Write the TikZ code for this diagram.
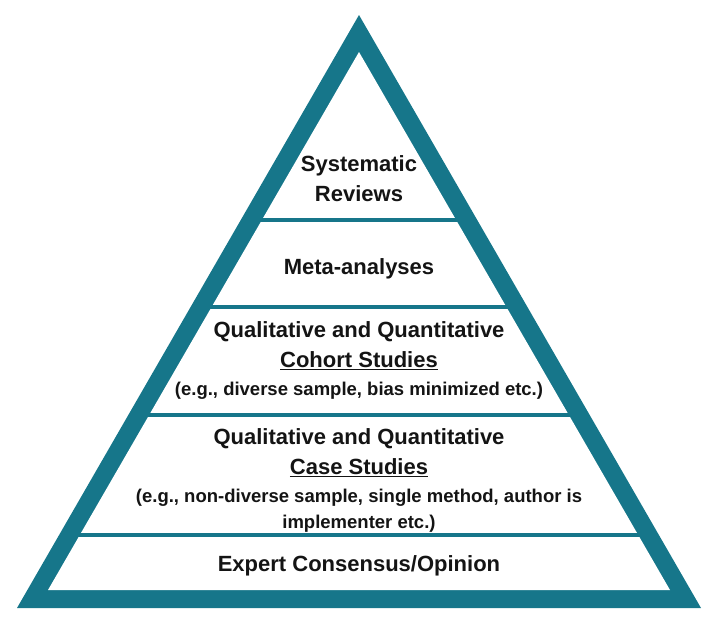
\documentclass[tikz,border=0pt]{standalone}
\usepackage{xcolor}
\usepackage{fontspec}
\setmainfont{Liberation Sans}
\usepackage{tikz}
\usetikzlibrary{positioning}

\definecolor{pyrteal}{RGB}{22,118,138}
\definecolor{pyrtext}{RGB}{20,20,20}

\tikzset{
  tierlabel/.style={text=pyrtext, font=\bfseries\fontsize{22}{30}\selectfont, align=center, inner sep=0pt},
  tiernote/.style={text=pyrtext, font=\bfseries\fontsize{18.5}{26}\selectfont, align=center, inner sep=0pt},
  divider/.style={pyrteal, line width=4pt}
}

\begin{document}
\begin{tikzpicture}[x=1pt, y=-1pt]
    \useasboundingbox (0, 0) rectangle (721, 622);

    \coordinate (OTop) at (359, 15);
    \coordinate (OLeft) at (17, 608);
    \coordinate (ORight) at (701, 608);

    \coordinate (ITop) at (359, 52);
    \coordinate (ILeft) at (48, 590);
    \coordinate (IRight) at (670, 590);

    \coordinate (D1L) at (259, 220);
    \coordinate (D1R) at (459, 220);
    \coordinate (D2L) at (209, 307);
    \coordinate (D2R) at (509, 307);
    \coordinate (D3L) at (147, 415);
    \coordinate (D3R) at (571, 415);
    \coordinate (D4L) at (77, 535);
    \coordinate (D4R) at (641, 535);

    \fill [pyrteal] (OTop) -- (OLeft) -- (ORight) -- cycle;
    \fill [white] (ITop) -- (ILeft) -- (IRight) -- cycle;

    \draw [divider] (D1L) to (D1R);
    \draw [divider] (D2L) to (D2R);
    \draw [divider] (D3L) to (D3R);
    \draw [divider] (D4L) to (D4R);

    \node [tierlabel] (reviews) at (359, 179) {Systematic\\Reviews};
    \node [tierlabel] (meta) at (359, 269) {Meta-analyses};

    \node [tierlabel] (cohort) at (359, 346) {Qualitative and Quantitative\\\underline{Cohort Studies}};
    \node [tiernote] (cohortnote) at (359, 391) {(e.g., diverse sample, bias minimized etc.)};

    \node [tierlabel] (case) at (359, 453) {Qualitative and Quantitative\\\underline{Case Studies}};
    \node [tiernote] (casenote) at (359, 511) {(e.g., non-diverse sample, single method, author is\\implementer etc.)};

    \node [tierlabel] (expert) at (359, 566) {Expert Consensus/Opinion};
\end{tikzpicture}
\end{document}
